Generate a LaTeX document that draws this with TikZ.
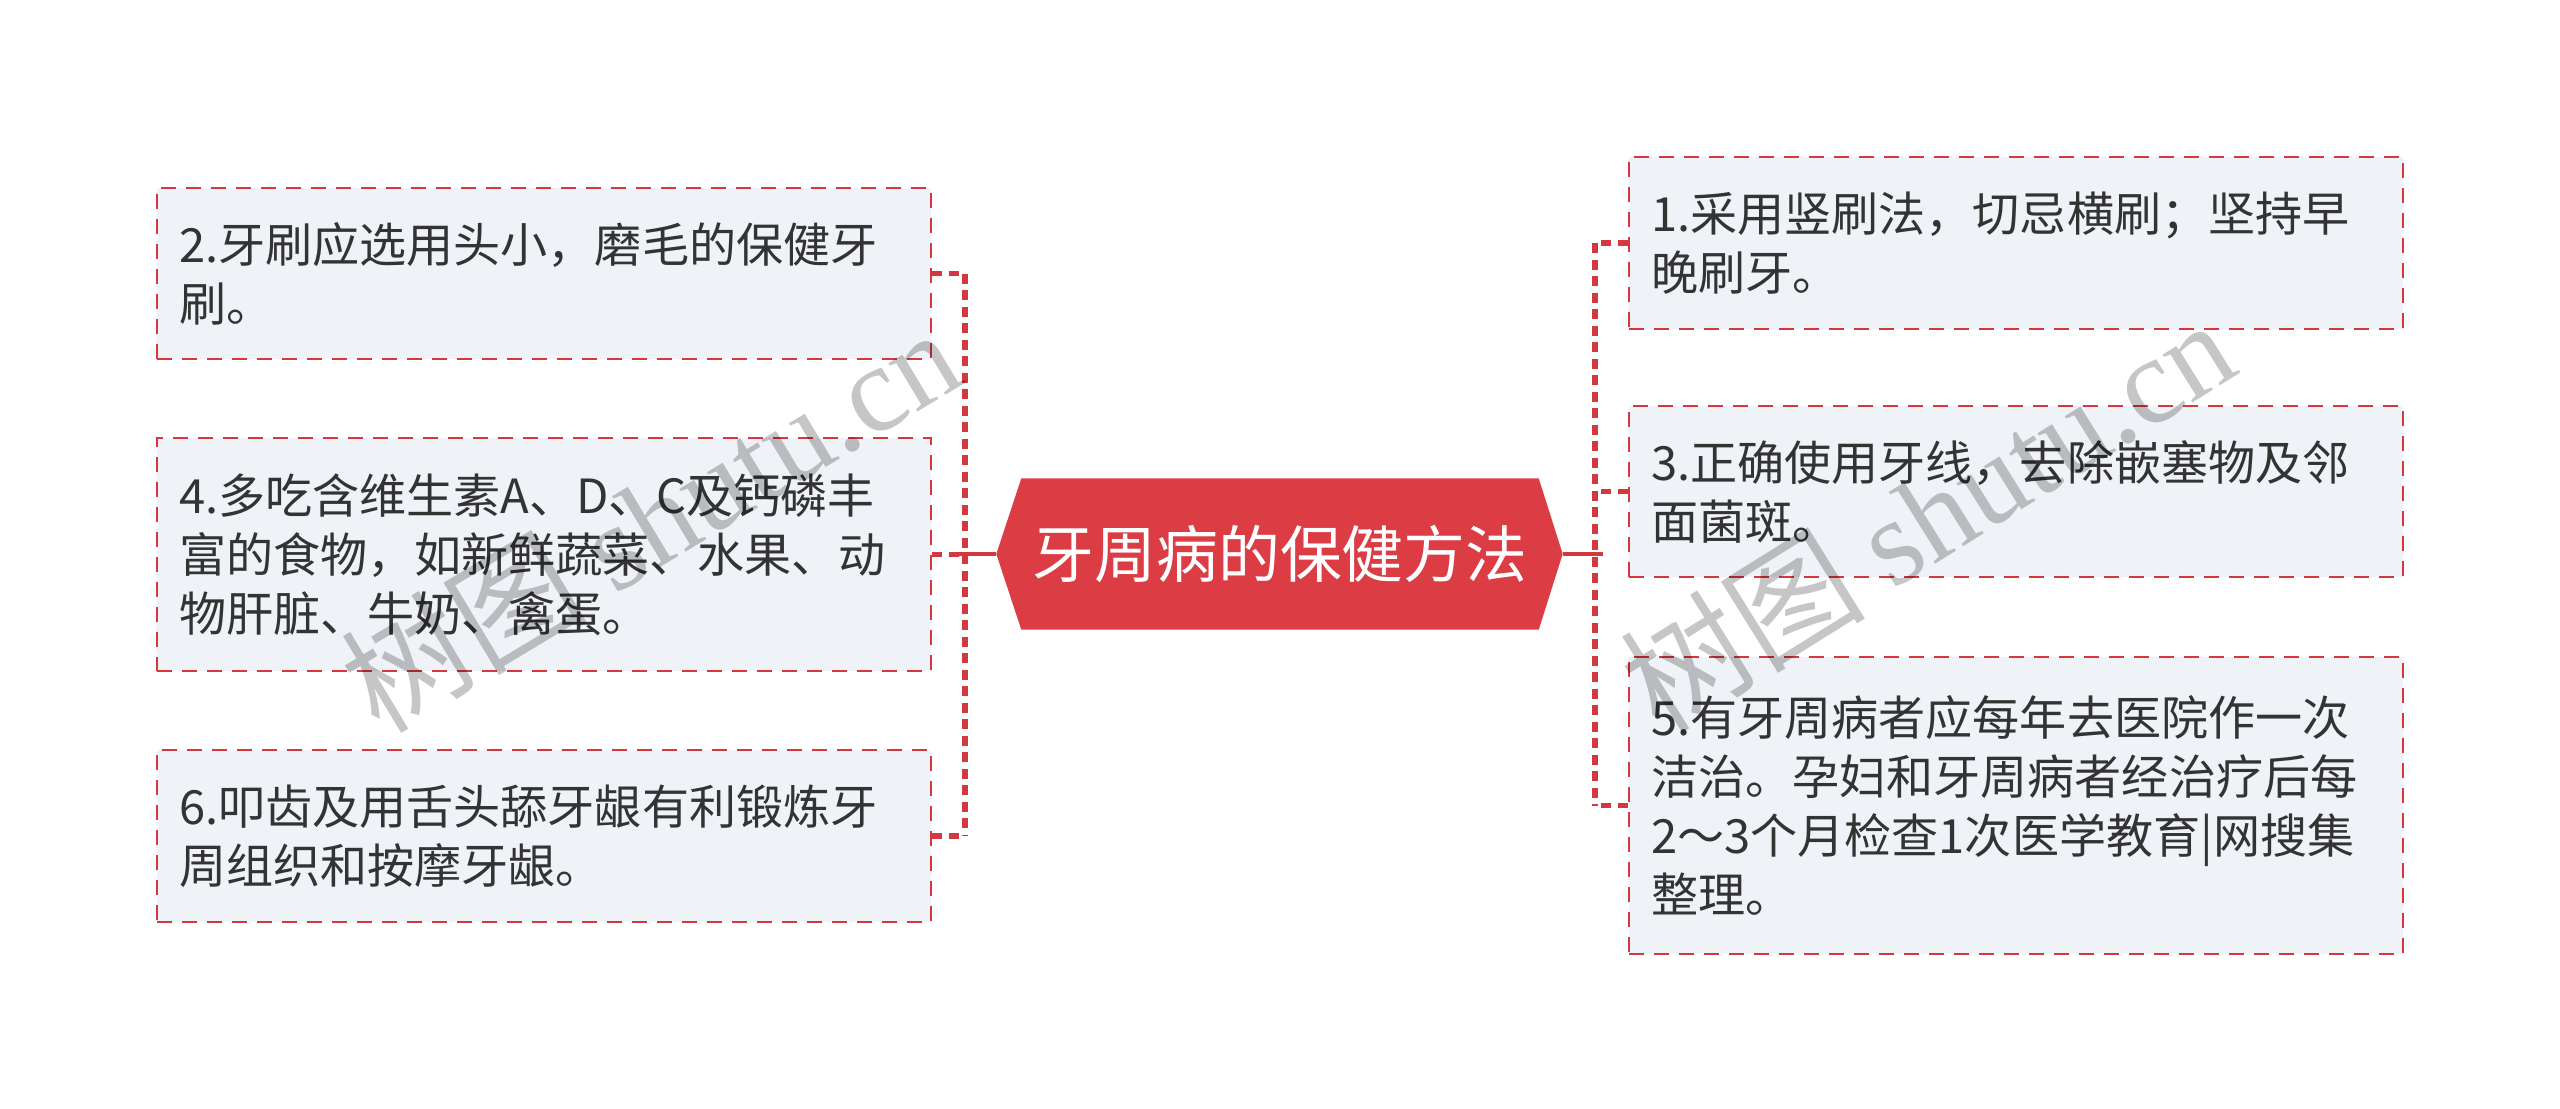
\documentclass[tikz,border=0pt]{standalone}
\usepackage{fontspec}
\setmainfont{Noto Sans CJK SC}
\newfontfamily\markfont{Liberation Serif}
\usetikzlibrary{positioning,backgrounds}

\begin{document}
\begin{tikzpicture}[
		itembox/.style={draw=boxred,line width=0.7pt,dash pattern=on 0.15cm off 0.1cm,fill=boxgray,
			text=textgray,inner xsep=0.22cm,inner ysep=0pt,text width=7.3cm,align=left,
			font=\fontsize{13.4pt}{16.8pt}\selectfont},
		titlebox/.style={minimum width=5.16cm,minimum height=1.5cm,inner sep=0pt,text=white,
			font=\fontsize{17.6pt}{20pt}\selectfont},
		busline/.style={boxred,line width=1.5pt,dash pattern=on 0.1cm off 0.065cm},
		stubline/.style={boxred,line width=1.5pt,dash pattern=on 0.1cm off 0.065cm},
		linkline/.style={boxred,line width=1.1pt},
		marktext/.style={text=markgray,blend mode=multiply,inner sep=0pt,
			font=\fontsize{35pt}{36pt}\selectfont}
	]
					\definecolor{boxred}{HTML}{D5373F}
					\definecolor{titlered}{HTML}{DC3D45}
					\definecolor{boxgray}{HTML}{EFF2F6}
					\definecolor{textgray}{HTML}{333333}
					\definecolor{markgray}{HTML}{C6C6C6}
					\useasboundingbox (0,0) rectangle (25.6,-11.08);
					% centre
					\node[titlebox] (title) at (12.8,-5.54) {牙周病的保健方法};
					\coordinate (titlel) at ([xshift=-0.25cm]title.west);
					\coordinate (titler) at ([xshift=0.24cm]title.east);
					\begin{scope}[on background layer]
						\fill[titlered] (title.north west) -- (title.north east) -- (titler) -- (title.south east) -- (title.south west) -- (titlel) -- cycle;
					\end{scope}
					% left side
					\node[itembox,minimum height=1.71cm] (b2) at (5.44,-2.735) {2.牙刷应选用头小，磨毛的保健牙\\刷。};
					\node[itembox,minimum height=2.33cm] (b4) at (5.44,-5.545) {4.多吃含维生素A、D、C及钙磷丰\\富的食物，如新鲜蔬菜、水果、动\\物肝脏、牛奶、禽蛋。};
					\node[itembox,minimum height=1.72cm] (b6) at (5.44,-8.36) {6.叩齿及用舌头舔牙龈有利锻炼牙\\周组织和按摩牙龈。};
					% right side
					\node[itembox,minimum height=1.72cm] (b1) at (20.16,-2.43) {1.采用竖刷法，切忌横刷；坚持早\\晚刷牙。};
					\node[itembox,minimum height=1.71cm] (b3) at (20.16,-4.915) {3.正确使用牙线，去除嵌塞物及邻\\面菌斑。};
					\node[itembox,minimum height=2.97cm] (b5) at (20.16,-8.055) {5.有牙周病者应每年去医院作一次\\洁治。孕妇和牙周病者经治疗后每\\2～3个月检查1次医学教育|网搜集\\整理。};
					% connectors
					\coordinate (lbus) at (9.65,0);
					\coordinate (rbus) at (15.95,0);
					\draw[busline] (b2.east -| lbus) -- (b6.east -| lbus);
					\draw[busline] (b1.west -| rbus) -- (b5.west -| rbus);
					\draw[linkline] (titlel) -- ([xshift=-0.08cm]titlel -| lbus);
					\draw[linkline] (titler) -- ([xshift=0.08cm]titler -| rbus);
					\foreach \b in {b2,b4,b6}
						\draw[stubline] (\b.east) -- (\b.east -| lbus);
					\foreach \b in {b1,b3,b5}
						\draw[stubline] (\b.west) -- (\b.west -| rbus);
					% watermark
					\node[marktext,rotate=31] (mark1) at (6.5,-5.19) {树图 {\markfont shutu.cn}};
					\node[marktext,rotate=32] (mark2) at (19.27,-5.14) {树图 {\markfont shutu.cn}};
				\end{tikzpicture}
\end{document}
